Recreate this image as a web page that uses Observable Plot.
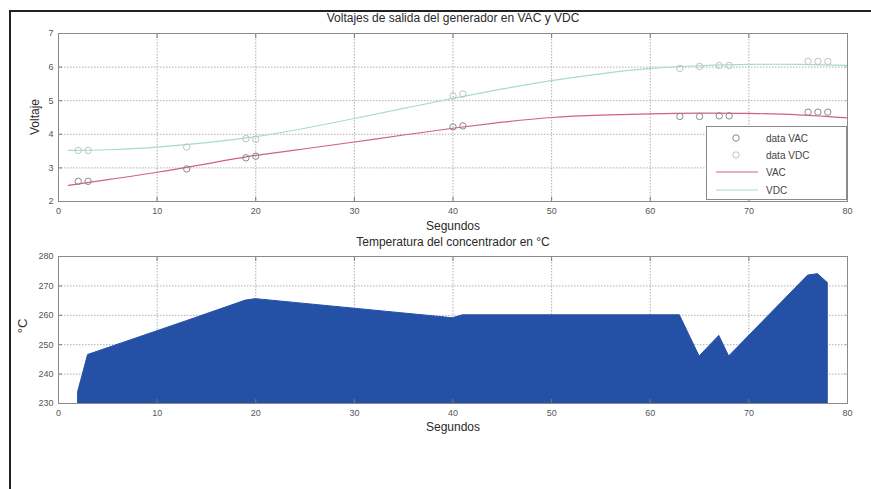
<!DOCTYPE html>
<html><head><meta charset="utf-8">
<script src="https://cdn.jsdelivr.net/npm/d3@7"></script>
<script src="https://cdn.jsdelivr.net/npm/@observablehq/plot@0.6"></script>
<style>
body{margin:0;background:#fff;font-family:"Liberation Sans",Arial,sans-serif;}
#wrap{position:relative;width:871px;height:489px;overflow:hidden;background:#fff}
.t{position:absolute;color:#2a2a2a;white-space:nowrap;transform:translate(-50%,-50%);line-height:1}
.abs{position:absolute;left:0}
#legend{position:absolute;left:706px;top:126px;width:139px;height:72px;border:1px solid #8a8a8a;background:#fff}
</style></head><body><div id="wrap"></div>
<script>
// ---- data ----
const seconds = [2, 3, 13, 19, 20, 40, 41, 63, 65, 67, 68, 76, 77, 78];
const dataVAC = [2.6, 2.6, 2.97, 3.3, 3.35, 4.22, 4.25, 4.53, 4.53, 4.55, 4.55, 4.66, 4.66, 4.66];
const dataVDC = [3.52, 3.52, 3.62, 3.87, 3.85, 5.15, 5.2, 5.96, 6.02, 6.05, 6.05, 6.17, 6.17, 6.17];
const fitSeconds = [1, 5, 10, 15, 20, 25, 30, 35, 40, 45, 50, 55, 60, 65, 70, 75, 80];
const fitVAC = [2.48, 2.65, 2.87, 3.12, 3.37, 3.57, 3.77, 3.98, 4.18, 4.36, 4.5, 4.57, 4.61, 4.63, 4.62, 4.58, 4.49];
const fitVDC = [3.52, 3.54, 3.62, 3.75, 3.93, 4.18, 4.47, 4.77, 5.07, 5.35, 5.6, 5.8, 5.96, 6.04, 6.08, 6.08, 6.05];
const temperature = [234, 246.5, 258, 265, 265.5, 259, 260, 260, 246, 253, 246, 273.5, 274, 271];
const xTicks = [0, 10, 20, 30, 40, 50, 60, 70, 80];
const voltTicks = [2, 3, 4, 5, 6, 7];
const tempTicks = [230, 240, 250, 260, 270, 280];
const legendNames = ["data VAC", "data VDC", "VAC", "VDC"];

const colVAC = "#d0627a", colVDC = "#a6dccb", dotVAC = "#8a8a8a", dotVDC = "#b9c7c0";
const font = '"Liberation Sans", Arial, sans-serif';

const pts = seconds.map((s, i) => ({s, vac: dataVAC[i], vdc: dataVDC[i], t: temperature[i]}));
const fit = fitSeconds.map((s, i) => ({s, vac: fitVAC[i], vdc: fitVDC[i]}));

const grid = {stroke: "#9a9a9a", strokeOpacity: 1, strokeDasharray: "1.5,1.5", strokeWidth: 0.8};
function axes(yTicks) {
  return [
    Plot.axisX(xTicks, {tickSize: 0, tickPadding: 6, fill: "#555", fontSize: 9}),
    Plot.axisX(xTicks, {tickSize: -4, tickFormat: () => "", stroke: "#777"}),
    Plot.axisX(xTicks, {anchor: "top", tickSize: -4, tickFormat: () => "", stroke: "#777"}),
    Plot.axisY(yTicks, {tickSize: 0, tickPadding: 5, fill: "#555", fontSize: 9}),
    Plot.axisY(yTicks, {tickSize: -4, tickFormat: () => "", stroke: "#777"}),
    Plot.axisY(yTicks, {anchor: "right", tickSize: -4, tickFormat: () => "", stroke: "#bbb"}),
    Plot.frame({stroke: "#8a8a8a"})
  ];
}

const topPlot = Plot.plot({
  width: 871, height: 230,
  marginLeft: 58, marginRight: 24, marginTop: 33, marginBottom: 29,
  style: {fontFamily: font, fontSize: "9px", background: "transparent", overflow: "visible"},
  x: {domain: [0, 80], label: null},
  y: {domain: [2, 7], label: null},
  marks: [
    Plot.gridX(xTicks, grid),
    Plot.gridY(voltTicks, grid),
    Plot.line(fit, {x: "s", y: "vac", stroke: colVAC, strokeWidth: 1.2, curve: "natural"}),
    Plot.line(fit, {x: "s", y: "vdc", stroke: colVDC, strokeWidth: 1.2, curve: "natural"}),
    Plot.dot(pts, {x: "s", y: "vac", r: 3.2, stroke: dotVAC, strokeWidth: 1}),
    Plot.dot(pts, {x: "s", y: "vdc", r: 3.2, stroke: dotVDC, strokeWidth: 1}),
    ...axes(voltTicks)
  ]
});

const botPlot = Plot.plot({
  width: 871, height: 259,
  marginLeft: 58, marginRight: 24, marginTop: 26, marginBottom: 86,
  style: {fontFamily: font, fontSize: "9px", background: "transparent", overflow: "visible"},
  x: {domain: [0, 80], label: null},
  y: {domain: [230, 280], label: null},
  marks: [
    Plot.gridX(xTicks, grid),
    Plot.gridY(tempTicks, grid),
    Plot.areaY(pts, {x: "s", y: "t", fill: "#2450a6", stroke: "#2450a6", strokeWidth: 1, clip: true}),
    ...axes(tempTicks)
  ]
});

const wrap = document.getElementById("wrap");
topPlot.classList.add("abs"); topPlot.style.top = "0px";
botPlot.classList.add("abs"); botPlot.style.top = "230px";
wrap.appendChild(topPlot);
wrap.appendChild(botPlot);

function label(text, x, y, size, rot) {
  const d = document.createElement("div");
  d.className = "t";
  d.textContent = text;
  d.style.left = x + "px"; d.style.top = y + "px"; d.style.fontSize = size + "px";
  if (rot) d.style.transform = "translate(-50%,-50%) rotate(-90deg)";
  wrap.appendChild(d);
}
label("Voltajes de salida del generador en VAC y VDC", 453, 18, 12);
label("Segundos", 453, 226, 12);
label("Temperatura del concentrador en °C", 453, 242, 12);
label("Segundos", 453, 427, 12);
label("Voltaje", 35, 117, 12, true);
label("°C", 22, 326, 13, true);

// legend
const lg = document.createElement("div");
lg.id = "legend";
const ns = "http://www.w3.org/2000/svg";
const svg = document.createElementNS(ns, "svg");
svg.setAttribute("width", 139); svg.setAttribute("height", 72);
const ys = [11, 28, 45, 63];
const styles = [
  {type: "dot", c: dotVAC}, {type: "dot", c: dotVDC},
  {type: "line", c: colVAC}, {type: "line", c: colVDC}
];
legendNames.forEach((name, i) => {
  const s = styles[i];
  if (s.type === "dot") {
    const c = document.createElementNS(ns, "circle");
    c.setAttribute("cx", 29); c.setAttribute("cy", ys[i]); c.setAttribute("r", 3.2);
    c.setAttribute("fill", "none"); c.setAttribute("stroke", s.c);
    svg.appendChild(c);
  } else {
    const l = document.createElementNS(ns, "line");
    l.setAttribute("x1", 9); l.setAttribute("x2", 51); l.setAttribute("y1", ys[i]); l.setAttribute("y2", ys[i]);
    l.setAttribute("stroke", s.c); l.setAttribute("stroke-width", 1.2);
    svg.appendChild(l);
  }
  const t = document.createElementNS(ns, "text");
  t.setAttribute("x", 59); t.setAttribute("y", ys[i]); t.setAttribute("dy", "0.35em");
  t.setAttribute("font-size", 10); t.setAttribute("font-family", font); t.setAttribute("fill", "#444");
  t.textContent = name;
  svg.appendChild(t);
});
lg.appendChild(svg);
wrap.appendChild(lg);

// screenshot border
const b = document.createElement("div");
b.style.cssText = "position:absolute;left:9px;top:10px;width:900px;height:500px;border-top:2px solid #222;border-left:2px solid #222";
wrap.appendChild(b);
</script></body></html>
